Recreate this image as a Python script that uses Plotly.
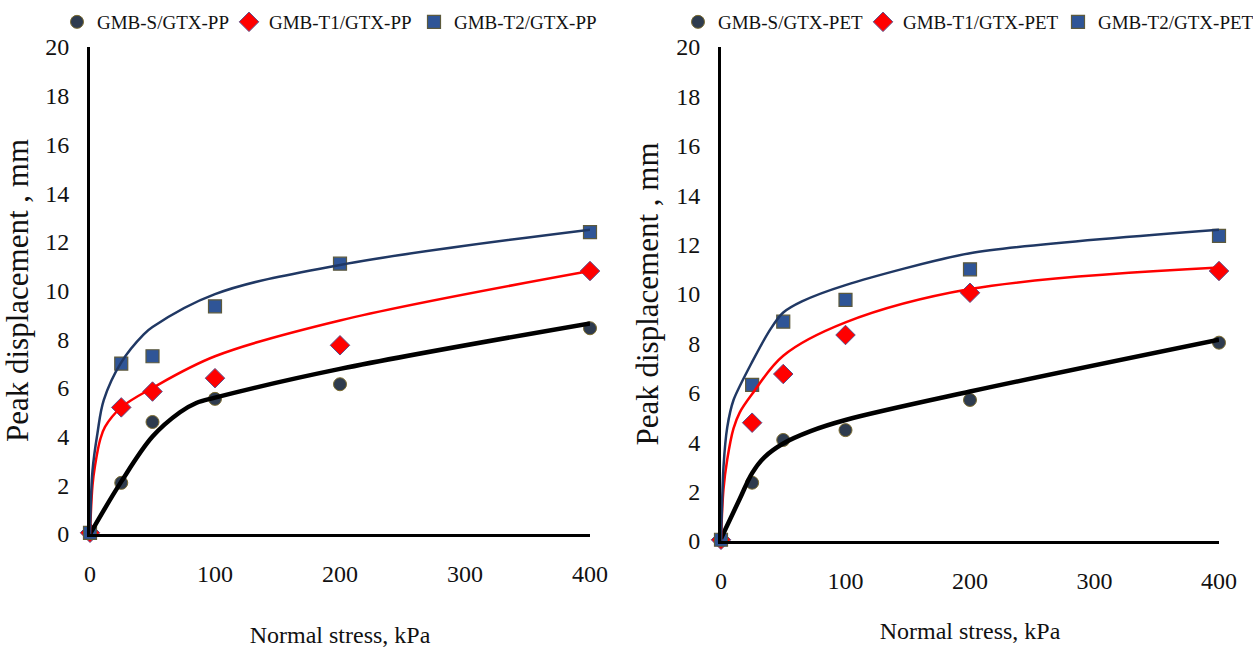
import plotly.graph_objects as go

# Normal stress levels (kPa)
stress = [0, 25, 50, 100, 200, 400]

# Measured peak displacement (mm) - GTX-PP interfaces
pp_s = [0.05, 2.1, 4.6, 5.55, 6.15, 8.45]
pp_t1 = [0.05, 5.2, 5.85, 6.4, 7.75, 10.8]
pp_t2 = [0.05, 7.0, 7.3, 9.35, 11.1, 12.4]

# Measured peak displacement (mm) - GTX-PET interfaces
pet_s = [0.05, 2.36, 4.09, 4.49, 5.71, 8.03]
pet_t1 = [0.05, 4.79, 6.76, 8.34, 10.05, 10.93]
pet_t2 = [0.05, 6.32, 8.88, 9.76, 11.0, 12.35]

# Fitted trend curves (stress, displacement)
pp_s_fit_x = [0, 25, 50, 72, 85, 100, 200, 400]
pp_s_fit_y = [0, 2.15, 4.0, 5.0, 5.38, 5.6, 6.78, 8.65]
pp_t1_fit_x = [0, 2, 4, 8, 12, 25, 50, 100, 200, 400]
pp_t1_fit_y = [0, 2.0, 2.8, 3.85, 4.4, 5.2, 6.0, 7.3, 8.77, 10.8]
pp_t2_fit_x = [0, 2, 6, 11, 25, 43, 50, 100, 200, 400]
pp_t2_fit_y = [0, 2.6, 4.15, 5.5, 7.05, 8.2, 8.5, 9.85, 11.05, 12.5]

pet_s_fit_x = [0, 15, 25, 35, 50, 72, 100, 200, 400]
pet_s_fit_y = [0.1, 1.7, 2.75, 3.4, 3.95, 4.45, 4.9, 6.05, 8.15]
pet_t1_fit_x = [0, 2, 5, 10, 15, 25, 50, 100, 200, 400]
pet_t1_fit_y = [0, 2.1, 3.3, 4.55, 5.2, 5.95, 7.5, 8.85, 10.2, 11.07]
pet_t2_fit_x = [0, 2, 5, 10, 25, 40, 50, 65, 100, 200, 400]
pet_t2_fit_y = [0, 3.0, 4.6, 5.7, 7.25, 8.6, 9.25, 9.7, 10.36, 11.65, 12.6]

x_ticks = [0, 100, 200, 300, 400]
y_ticks = list(range(0, 21, 2))

FONT = "Liberation Serif, Times New Roman, serif"
C_S, C_T1, C_T2 = "#2E3B4E", "#FF0000", "#2F5597"

fig = go.Figure()

marker_styles = [
    dict(symbol="circle", size=13, color=C_S, line=dict(color="#7A6A2E", width=1)),
    dict(symbol="diamond", size=15, color=C_T1, line=dict(color="#5B4F8A", width=1)),
    dict(symbol="square", size=13, color=C_T2, line=dict(color="#5D5A3C", width=1.2)),
]
line_styles = [
    dict(color="#000000", width=4.5),
    dict(color="#FF0000", width=2.5),
    dict(color="#203864", width=2.5),
]

panels = [
    dict(xa="x", ya="y", legend="legend",
         names=["GMB-S/GTX-PP", "GMB-T1/GTX-PP", "GMB-T2/GTX-PP"],
         data=[pp_s, pp_t1, pp_t2],
         fits=[(pp_s_fit_x, pp_s_fit_y), (pp_t1_fit_x, pp_t1_fit_y), (pp_t2_fit_x, pp_t2_fit_y)],
         smooth=[1, 1, 1], entry=[127, 140, 150]),
    dict(xa="x2", ya="y2", legend="legend2",
         names=["GMB-S/GTX-PET", "GMB-T1/GTX-PET", "GMB-T2/GTX-PET"],
         data=[pet_s, pet_t1, pet_t2],
         fits=[(pet_s_fit_x, pet_s_fit_y), (pet_t1_fit_x, pet_t1_fit_y), (pet_t2_fit_x, pet_t2_fit_y)],
         smooth=[1, 1, 0.7], entry=[140, 150, 150]),
]

for p in panels:
    for name, ys, ms, ew in zip(p["names"], p["data"], marker_styles, p["entry"]):
        fig.add_trace(go.Scatter(
            x=stress, y=ys, name=name, mode="markers", marker=ms,
            xaxis=p["xa"], yaxis=p["ya"], legend=p["legend"], legendwidth=ew,
            cliponaxis=False,
        ))
    for (fx, fy), ls, sm in zip(p["fits"], line_styles, p["smooth"]):
        fig.add_trace(go.Scatter(
            x=fx, y=fy, mode="lines", line=dict(shape="spline", smoothing=sm, **ls),
            xaxis=p["xa"], yaxis=p["ya"], showlegend=False, cliponaxis=False,
            hoverinfo="skip",
        ))

W, H = 1259, 648
TICK_FONT = dict(family=FONT, size=24, color="#111")


def xaxis(left, right, standoff):
    return dict(
        domain=[left / W, right / W], range=[0, 400], tickvals=x_ticks,
        showgrid=False, zeroline=False, showline=True, linecolor="#000", linewidth=3,
        ticks="", ticklabelstandoff=16, tickfont=TICK_FONT,
        title=dict(text="Normal stress, kPa", font=dict(family=FONT, size=24, color="#111"),
                   standoff=standoff),
        automargin=False, fixedrange=True,
    )


def yaxis(top, bottom, anchor):
    return dict(
        domain=[(H - bottom) / H, (H - top) / H], range=[0, 20], tickvals=y_ticks,
        showgrid=False, zeroline=False, showline=True, linecolor="#000", linewidth=3,
        ticks="", ticklabelstandoff=13, tickfont=TICK_FONT,
        title=dict(text="Peak displacement , mm", font=dict(family=FONT, size=31, color="#111"),
                   standoff=9),
        anchor=anchor, automargin=False, fixedrange=True,
    )


legend_common = dict(
    orientation="h", yanchor="middle", y=1 - 22 / H, xanchor="left",
    font=dict(family=FONT, size=19, color="#111"), bgcolor="rgba(0,0,0,0)",
    itemclick=False, itemdoubleclick=False, tracegroupgap=0,
)

fig.update_layout(
    width=W, height=H, autosize=False,
    margin=dict(l=0, r=0, t=0, b=0, autoexpand=False),
    font=dict(family=FONT, color="#111"),
    paper_bgcolor="white", plot_bgcolor="white",
    xaxis=dict(xaxis(90, 590, 42), anchor="y"),
    yaxis=yaxis(47, 534, "x"),
    xaxis2=dict(xaxis(721, 1219, 30), anchor="y2"),
    yaxis2=yaxis(47, 541, "x2"),
    legend=dict(legend_common, x=57 / W),
    legend2=dict(legend_common, x=678 / W),
)

fig.write_html("out.html", config={"responsive": False})
